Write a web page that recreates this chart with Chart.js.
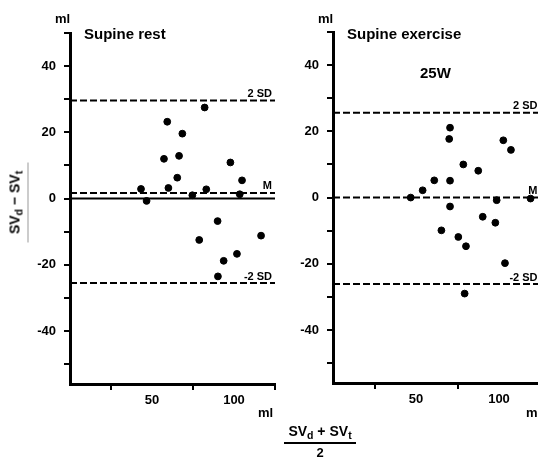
<!DOCTYPE html>
<html>
<head>
<meta charset="utf-8">
<script src="https://cdn.jsdelivr.net/npm/chart.js@4.4.1/dist/chart.umd.min.js"></script>
<style>
  body { margin: 0; width: 538px; height: 457px; overflow: hidden; background: #fff; position: relative;
         font-family: "Liberation Sans", Arial, sans-serif; color: #000; }
  canvas { position: absolute; top: 0; }
  .t { position: absolute; white-space: nowrap; line-height: 1; }
  .b { font-weight: bold; }
  sub { font-size: 0.75em; vertical-align: -0.3em; }
</style>
</head>
<body>
<canvas id="rest" style="left:0" width="290" height="457"></canvas>
<canvas id="exer" style="left:263px" width="290" height="457"></canvas>

<div class="t b" style="left:55px;top:12px;font-size:13px">ml</div>
<div class="t b" style="left:84px;top:26px;font-size:15px">Supine rest</div>
<div class="t b" style="left:258px;top:406px;font-size:13px">ml</div>

<div class="t b" style="left:318px;top:12px;font-size:13px">ml</div>
<div class="t b" style="left:347px;top:26px;font-size:15px">Supine exercise</div>
<div class="t b" style="left:420px;top:65px;font-size:15px">25W</div>
<div class="t b" style="left:526px;top:406px;font-size:13px">ml</div>

<div class="t b" style="left:-22px;top:192px;width:80px;height:20px;font-size:14px;text-align:center;transform:rotate(-90deg);border-bottom:1px solid #999">SV<sub>d</sub> − SV<sub>t</sub></div>

<div class="t b" style="left:284px;top:424px;width:72px;font-size:14px;text-align:center;border-bottom:2px solid #000;padding-bottom:1px">SV<sub>d</sub> + SV<sub>t</sub></div>
<div class="t b" style="left:284px;top:446px;width:72px;font-size:13px;text-align:center">2</div>

<script>
// Supine rest: mean of the two methods (x) and difference (y)
const restMean = [43.3, 46.7, 57.3, 59.3, 60, 65.4, 66.5, 68.5, 74.6, 82.1, 83.1, 90, 97.8, 104.9, 103.5, 78.8, 116.5, 101.8, 93.7, 90.2];
const restDiff = [2.9, -0.7, 12, 23.2, 3.2, 6.3, 12.9, 19.6, 1.0, 27.5, 2.8, -6.8, 10.9, 5.5, 1.3, -12.5, -11.2, -16.7, -18.8, -23.5];
const restLines = [29.6, 1.7, -25.5];

// Supine exercise 25W
const exerMean = [46.8, 54, 61, 70.5, 70, 70.5, 70.5, 78.5, 87.5, 98.6, 102.6, 107.2, 90.2, 97.8, 119, 65.3, 75.5, 80.1, 103.6, 79.3];
const exerDiff = [0, 2.2, 5.2, 21.1, 17.7, 5.1, -2.7, 10, 8.1, -0.8, 17.3, 14.4, -5.8, -7.6, -0.3, -9.9, -11.9, -14.7, -19.8, -29];
const exerLines = [25.6, 0, -26.1];

const lineNames = ['2 SD', 'M', '-2 SD'];
const xTicks = [25, 50, 75, 100, 125];
const xLabels = [50, 100];
const yTicks = [-50, -40, -30, -20, -10, 0, 10, 20, 30, 40, 50];
const yLabels = [-40, -20, 0, 20, 40];

const refLabels = {
  id: 'refLabels',
  afterDatasetsDraw(chart, args, opts) {
    const {ctx, chartArea, scales} = chart;
    ctx.save();
    ctx.fillStyle = '#000';
    ctx.font = 'bold 11px "Liberation Sans", Arial, sans-serif';
    ctx.textAlign = 'right';
    ctx.textBaseline = 'bottom';
    opts.values.forEach((v, i) => {
      ctx.fillText(lineNames[i], chartArea.right - 3, scales.y.getPixelForValue(v) - 1);
    });
    ctx.restore();
  }
};

function makeChart(id, mean, diff, lines, zeroLine, pad) {
  const datasets = [{
    type: 'scatter',
    data: mean.map((m, i) => ({x: m, y: diff[i]})),
    backgroundColor: '#000', borderColor: '#000',
    pointRadius: 3.4, pointHoverRadius: 3.4
  }];
  lines.forEach(v => datasets.push({
    type: 'line', data: [{x: 0, y: v}, {x: 125, y: v}],
    borderColor: '#000', borderWidth: 2, borderDash: [7, 3], pointRadius: 0
  }));
  if (zeroLine) datasets.push({
    type: 'line', data: [{x: 0, y: 0}, {x: 125, y: 0}],
    borderColor: '#000', borderWidth: 2, pointRadius: 0
  });

  const font = {family: '"Liberation Sans", Arial, sans-serif', size: 13, weight: 'bold'};
  return new Chart(document.getElementById(id), {
    type: 'scatter',
    data: {datasets},
    plugins: [refLabels],
    options: {
      responsive: false,
      animation: false,
      layout: {padding: pad},
      plugins: {legend: {display: false}, tooltip: {enabled: false}, refLabels: {values: lines}},
      scales: {
        x: {
          type: 'linear', min: 0, max: 125,
          afterBuildTicks: s => { s.ticks = xTicks.map(v => ({value: v})); },
          afterFit: s => { s.height = 30; },
          ticks: {color: '#000', font, padding: 3, maxRotation: 0,
                  callback: v => xLabels.includes(v) ? String(v) : ''},
          grid: {drawOnChartArea: false, tickLength: 6, lineWidth: 2,
                 color: c => xLabels.includes(c.tick && c.tick.value) ? 'rgba(0,0,0,0)' : '#000'},
          border: {width: 3, color: '#000'}
        },
        y: {
          type: 'linear', min: -56, max: 50,
          afterBuildTicks: s => { s.ticks = yTicks.map(v => ({value: v})); },
          afterFit: s => { s.width = 70; },
          ticks: {color: '#000', font, padding: 8,
                  callback: v => yLabels.includes(v) ? String(v) : ''},
          grid: {drawOnChartArea: false, tickLength: 6, lineWidth: 2, color: '#000'},
          border: {width: 3, color: '#000'}
        }
      }
    }
  });
}

makeChart('rest', restMean, restDiff, restLines, true, {left: 0, right: 15, top: 33, bottom: 43});
makeChart('exer', exerMean, exerDiff, exerLines, false, {left: 0, right: 12.5, top: 32, bottom: 44});
</script>
</body>
</html>
